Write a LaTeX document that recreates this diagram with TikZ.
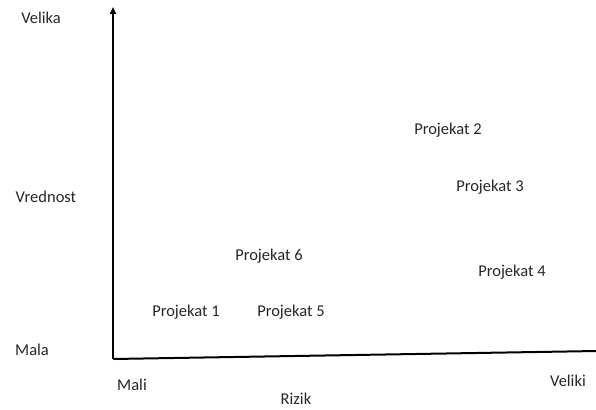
\documentclass[tikz,border=0pt]{standalone}
\usepackage{fontspec}
\setmainfont{Carlito}
\usetikzlibrary{arrows.meta}
\begin{document}
\begin{tikzpicture}[x=1pt,y=-1pt,
  lbl/.style={font=\fontsize{16.5}{19}\selectfont, text=black!85, inner sep=0pt, anchor=center},
  axis/.style={line width=2pt, black}]
\useasboundingbox (0,0) rectangle (596,409);
% axes
\coordinate (origin) at (113,359);
\coordinate (ytop) at (113,7);
\coordinate (xend) at (597,351);
\draw[axis, -{Triangle[length=7pt,width=6pt]}] (origin) -- (ytop);
\draw[axis] (origin) -- (xend);
% axis labels
\node[lbl] (velika) at (41,18) {Velika};
\node[lbl] (vrednost) at (46,197) {Vrednost};
\node[lbl] (mala) at (32,350) {Mala};
\node[lbl] (mali) at (132,385) {Mali};
\node[lbl] (rizik) at (296,399) {Rizik};
\node[lbl] (veliki) at (568,381) {Veliki};
% projects
\node[lbl] (p1) at (186,312) {Projekat 1};
\node[lbl] (p5) at (291,312) {Projekat 5};
\node[lbl] (p6) at (269,256) {Projekat 6};
\node[lbl] (p2) at (448,130) {Projekat 2};
\node[lbl] (p3) at (490,187) {Projekat 3};
\node[lbl] (p4) at (512,272) {Projekat 4};
\end{tikzpicture}
\end{document}
